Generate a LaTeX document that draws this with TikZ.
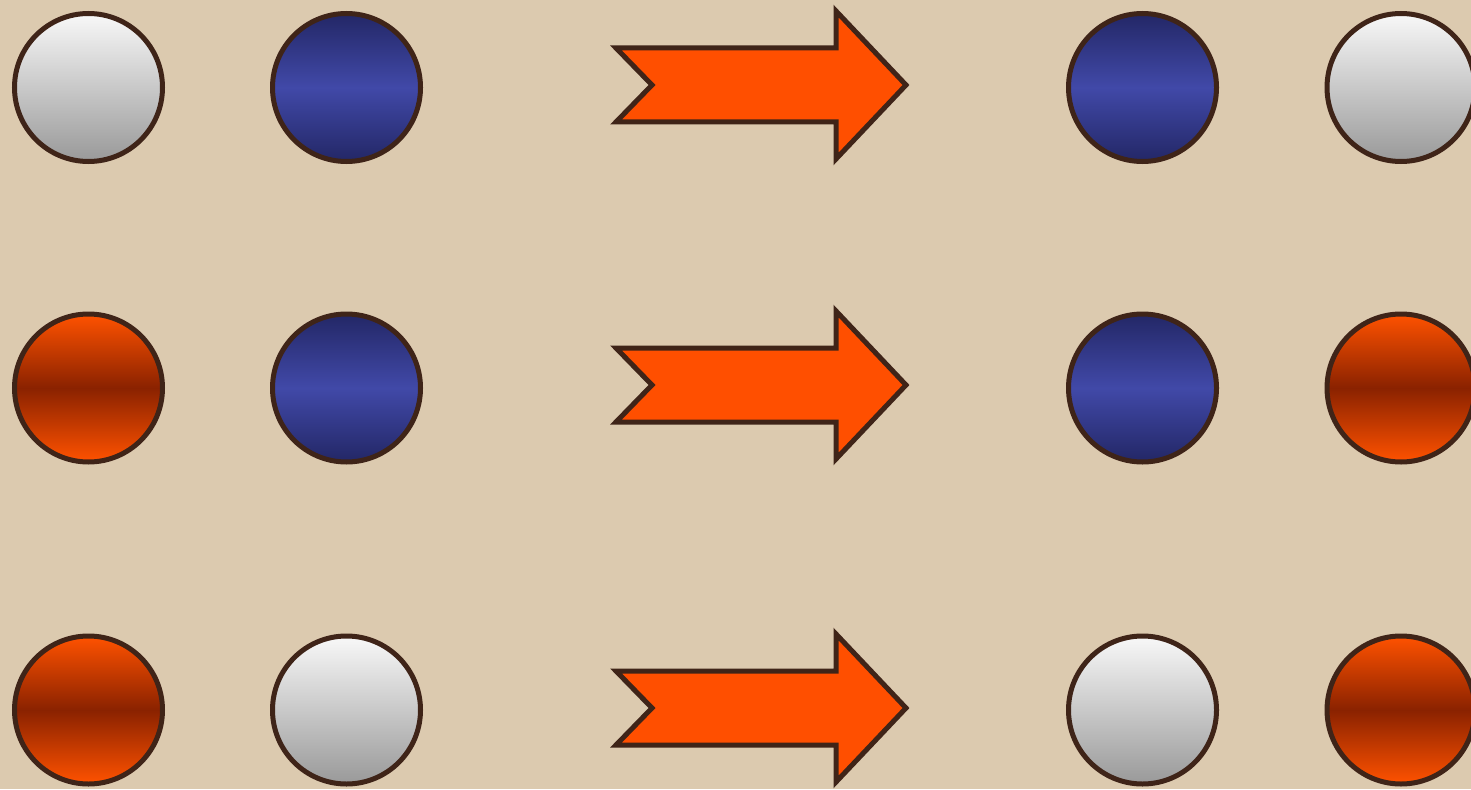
\documentclass[tikz,border=0pt]{standalone}
\usetikzlibrary{positioning}
\definecolor{bg}{HTML}{DCCAAF}
\definecolor{edge}{HTML}{3F2418}
\definecolor{arrowfill}{HTML}{FF4F00}
\definecolor{wtop}{HTML}{F8F8F8}
\definecolor{wbot}{HTML}{999999}
\definecolor{bedge}{HTML}{232766}
\definecolor{bmid}{HTML}{4149A8}
\definecolor{oedge}{HTML}{FF5200}
\definecolor{omid}{HTML}{8A2200}
\begin{document}
\begin{tikzpicture}[x=1pt,y=-1pt,
  ball/.style={circle,draw=edge,line width=5pt,minimum size=148pt,inner sep=0pt},
  white/.style={ball,top color=wtop,bottom color=wbot},
  blue/.style={ball,top color=bedge,bottom color=bedge,middle color=bmid},
  orange/.style={ball,top color=oedge,bottom color=oedge,middle color=omid},
  bigarrow/.style={fill=arrowfill,draw=edge,line width=5pt,line join=miter}]
\fill[bg] (0,0) rectangle (1471,789);
\useasboundingbox (0,0) rectangle (1471,789);
% row 1
\node[white]  (a1) at (88.5,87.5) {};
\node[blue]   (b1) at (346.5,87.5) {};
\node[blue]   (c1) at (1142.5,87.5) {};
\node[white]  (d1) at (1401,87.5) {};
% row 2
\node[orange] (a2) at (88.5,388) {};
\node[blue]   (b2) at (346.5,388) {};
\node[blue]   (c2) at (1142.5,388) {};
\node[orange] (d2) at (1401,388) {};
% row 3
\node[orange] (a3) at (88.5,710) {};
\node[white]  (b3) at (346.5,710) {};
\node[white]  (c3) at (1142.5,710) {};
\node[orange] (d3) at (1401,710) {};
% arrows
\foreach \y in {85,385,708}{
  \draw[bigarrow] (616,\y-37) -- (836,\y-37) -- (836,\y-74) -- (906,\y) -- (836,\y+74) -- (836,\y+37) -- (616,\y+37) -- (652,\y) -- cycle;
}
\end{tikzpicture}
\end{document}
